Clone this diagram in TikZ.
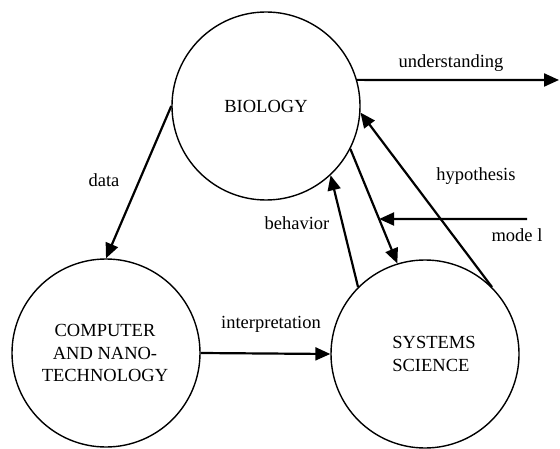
\documentclass[tikz,border=0pt]{standalone}
\usepackage{fontspec}
\setmainfont{Liberation Serif}
\usetikzlibrary{arrows.meta}
\begin{document}
\begin{tikzpicture}[x=0.5pt,y=-0.5pt,
  every node/.style={font=\fontsize{9.25}{11.25}\selectfont},
  ball/.style={circle, draw, line width=0.7pt, minimum size=94pt, inner sep=0pt},
  caption/.style={inner sep=0pt, align=center},
  tag/.style={inner sep=0pt, anchor=base},
  link/.style={line width=1.1pt, -{Triangle[length=7.5pt,width=6.5pt]}}]
  \useasboundingbox (0,0) rectangle (560,448);

  % the three fields
  \node[ball] (bio) at (266,106) {BIOLOGY};
  \node[ball] (comp) at (106,353) {};
  \node[caption] (comptxt) at (105,353) {COMPUTER\\AND NANO-\\TECHNOLOGY};
  \node[ball] (sys) at (425,354) {};
  \node[caption, align=left] (systxt) at (434,354) {SYSTEMS\\SCIENCE};

  % free ends
  \coordinate (uend) at (559,80);
  \coordinate (mstart) at (527,219);
  \coordinate (mleft) at (300,219);
  \coordinate (mtip) at (intersection of bio.-27--sys.107 and mstart--mleft);

  % connectors
  \draw[link] (bio.180) -- (comp.north);
  \draw[link] (comp.east) -- (sys.west);
  \draw[link] (sys.135) -- (bio.-47);
  \draw[link] (bio.-27) -- (sys.107);
  \draw[link] (sys.45) -- (bio.-4);
  \draw[link] (bio.16) -- (uend);
  \draw[link] (mstart) -- (mtip);

  % labels
  \node[tag] (lund) at (451,68) {understanding};
  \node[tag] (ldata) at (104,187) {data};
  \node[tag] (lhyp) at (476,181) {hypothesis};
  \node[tag] (lmode) at (517,242) {mode l};
  \node[tag] (lbeh) at (297,229) {behavior};
  \node[tag] (lint) at (271,328) {interpretation};
\end{tikzpicture}
\end{document}
